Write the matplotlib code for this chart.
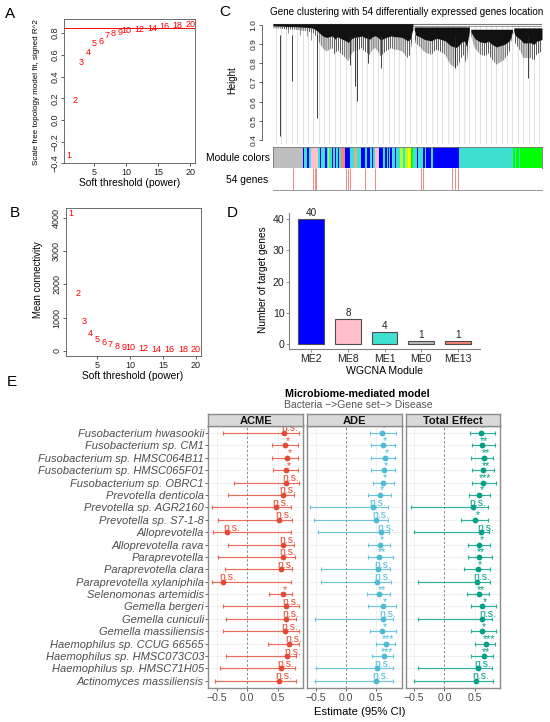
import matplotlib
matplotlib.use('Agg')
import matplotlib.pyplot as plt
import numpy as np

plt.rcParams['font.family'] = ['Liberation Sans', 'DejaVu Sans']
plt.rcParams['hatch.linewidth'] = 0.55

W, H = 550, 722
fig = plt.figure(figsize=(W / 100, H / 100), dpi=100)


def add_ax(l, t, r, b):
    return fig.add_axes([l / W, 1 - b / H, (r - l) / W, (b - t) / H])


def ftext(x, y, s, **kw):
    kw.setdefault('ha', 'center')
    kw.setdefault('va', 'center')
    return fig.text(x / W, 1 - y / H, s, **kw)


# ---------------- data ----------------
powers = [1, 2, 3, 4, 5, 6, 7, 8, 9, 10, 12, 14, 16, 18, 20]
sft_r2 = [-0.33, 0.18, 0.53, 0.62, 0.70, 0.72, 0.78, 0.80, 0.81, 0.82,
          0.835, 0.845, 0.857, 0.87, 0.88]
mean_k = [4150, 1730, 890, 520, 350, 250, 175, 130, 100, 85, 60, 45, 35, 28, 22]
r2_cut = 0.85

# dendrogram (leaf order in percent, heights)
clu1_pos = [0, 3, 6, 8, 11, 13, 15, 16, 17, 18, 19, 20, 22, 23, 24, 25, 27, 28, 29, 30,
            32, 33, 34, 36, 37, 38, 39, 40, 42, 43, 44, 45, 46, 48, 49, 50, 51, 52]
clu1_bot = [0.984, 0.981, 0.976, 0.976, 0.970, 0.967, 0.958, 0.94, 0.915, 0.889, 0.871,
            0.863, 0.880, 0.845, 0.871, 0.854, 0.828, 0.810, 0.845, 0.863, 0.871, 0.880,
            0.863, 0.845, 0.871, 0.880, 0.863, 0.837, 0.863, 0.871, 0.880, 0.871, 0.871,
            0.863, 0.845, 0.828, 0.845, 0.95]
clu2_pos = [52.5, 53, 55, 56, 57, 59, 60, 61, 62, 64, 65, 66, 68, 69, 70, 71, 72, 73]
clu2_bot = [0.96, 0.906, 0.880, 0.863, 0.854, 0.845, 0.863, 0.871, 0.863, 0.845, 0.819,
            0.793, 0.776, 0.793, 0.828, 0.845, 0.784, 0.95]
clu3_pos = [73.5, 75, 76, 77, 79, 80, 81, 82, 83, 85, 86, 87, 88, 89]
clu3_bot = [0.95, 0.880, 0.863, 0.845, 0.837, 0.854, 0.828, 0.810, 0.793, 0.810, 0.819,
            0.837, 0.863, 0.95]
clu4_pos = [89.5, 90, 92, 93, 95, 96, 97, 98, 100]
clu4_bot = [0.95, 0.906, 0.863, 0.828, 0.828, 0.828, 0.810, 0.845, 0.863]
clu_tops = [1.007, 0.990, 0.978, 0.985]
long_leaf_pos = [2.7, 7.2, 16.4, 28.5, 30.6, 31.4, 35.3, 40.3, 67.5, 94.8]
long_leaf_bot = [0.419, 0.706, 0.515, 0.793, 0.680, 0.605, 0.802, 0.776, 0.776, 0.724]
short_leaf_pos = [5.6, 9.9, 12.8, 14.3]
short_leaf_bot = [0.958, 0.950, 0.941, 0.923]

mod_start = [0, 11.2, 11.6, 12.8, 13.2, 14.0, 16.7, 17.6, 18.0, 18.8, 19.1, 19.5, 19.9,
             20.6, 21.0, 21.8, 22.2, 23.0, 23.5, 24.3, 24.7, 25.4, 26.6, 28.5, 30.1, 31.2,
             32.8, 34.1, 35.1, 35.9, 36.7, 37.0, 37.8, 39.3, 40.9, 41.8, 42.2, 42.6, 43.0,
             43.4, 44.2, 45.2, 45.8, 47.1, 48.3, 48.9, 50.2, 51.2, 52.0, 53.5, 53.8, 55.8,
             56.4, 57.0, 58.8, 59.5, 69.0, 89.2, 90.0, 90.5, 91.3, 91.7]
mod_col = ['grey', 'blue', 'turquoise', 'blue', 'turquoise', 'pink', 'turquoise', 'blue',
           'turquoise', 'blue', 'turquoise', 'blue', 'turquoise', 'greenyellow', 'turquoise',
           'blue', 'turquoise', 'blue', 'turquoise', 'blue', 'turquoise', 'salmon', 'blue',
           'turquoise', 'tan', 'turquoise', 'blue', 'turquoise', 'blue', 'turquoise', 'blue',
           'turquoise', 'pink', 'blue', 'turquoise', 'blue', 'turquoise', 'blue', 'turquoise',
           'blue', 'turquoise', 'blue', 'turquoise', 'greenyellow', 'turquoise',
           'greenyellow', 'yellow', 'green', 'turquoise', 'blue', 'turquoise', 'blue',
           'turquoise', 'blue', 'turquoise', 'blue', 'turquoise', 'green', 'turquoise',
           'green', 'turquoise', 'green']
wgcna_rgb = {'grey': '#BEBEBE', 'blue': '#0000FF', 'turquoise': '#40E0D0', 'pink': '#FFC0CB',
             'salmon': '#FA8072', 'tan': '#D2B48C', 'greenyellow': '#ADFF2F',
             'yellow': '#FFFF00', 'green': '#00FF00'}
de_gene_pos = [7.4, 14.9, 15.5, 16.1, 27.3, 27.9, 28.5, 34.1, 37.8, 55.1, 55.8, 66.7, 67.5, 68.8]

modules = ['ME2', 'ME8', 'ME1', 'ME0', 'ME13']
gene_counts = [40, 8, 4, 1, 1]
module_fill = ['#0000FF', '#FFC0CB', '#40E0D0', '#BEBEBE', '#FA8072']

taxa = ['Fusobacterium hwasookii', 'Fusobacterium sp. CM1', 'Fusobacterium sp. HMSC064B11',
        'Fusobacterium sp. HMSC065F01', 'Fusobacterium sp. OBRC1', 'Prevotella denticola',
        'Prevotella sp. AGR2160', 'Prevotella sp. S7-1-8', 'Alloprevotella',
        'Alloprevotella rava', 'Paraprevotella', 'Paraprevotella clara',
        'Paraprevotella xylaniphila', 'Selenomonas artemidis', 'Gemella bergeri',
        'Gemella cuniculi', 'Gemella massiliensis', 'Haemophilus sp. CCUG 66565',
        'Haemophilus sp. HMSC073C03', 'Haemophilus sp. HMSC71H05', 'Actinomyces massiliensis']

acme_est = [0.61, 0.62, 0.66, 0.64, 0.64, 0.58, 0.47, 0.52, -0.33, 0.58, 0.58, 0.56, -0.39,
            0.58, 0.64, 0.64, 0.62, 0.69, 0.66, 0.56, 0.52]
acme_lo = [-0.39, 0.40, 0.40, 0.43, -0.21, -0.31, -0.57, -0.48, -0.55, -0.31, -0.47, -0.36,
           -0.57, 0.36, -0.39, -0.35, -0.40, 0.34, -0.35, -0.44, -0.52]
acme_hi = [0.85, 0.83, 0.83, 0.83, 0.85, 0.76, 0.72, 0.73, 0.72, 0.76, 0.78, 0.74, 0.72,
           0.74, 0.85, 0.80, 0.85, 0.85, 0.80, 0.79, 0.80]
acme_sig = ['n.s.', '*', '*', '*', 'n.s.', 'n.s.', 'n.s.', 'n.s.', 'n.s.', 'n.s.', 'n.s.',
            'n.s.', 'n.s.', '*', 'n.s.', 'n.s.', 'n.s.', 'n.s.', 'n.s.', 'n.s.', 'n.s.']

ade_est = [0.59, 0.61, 0.64, 0.62, 0.61, 0.56, 0.45, 0.49, 0.58, 0.56, 0.55, 0.53, 0.52,
           0.55, 0.61, 0.61, 0.60, 0.66, 0.63, 0.52, 0.50]
ade_lo = [0.40, 0.42, 0.41, 0.41, 0.45, 0.37, -0.59, -0.53, -0.47, 0.36, 0.37, -0.41, -0.42,
          0.35, 0.36, -0.51, 0.40, 0.50, 0.43, -0.50, -0.52]
ade_hi = [0.82, 0.81, 0.81, 0.81, 0.79, 0.74, 0.70, 0.70, 0.71, 0.72, 0.77, 0.73, 0.74,
          0.73, 0.83, 0.77, 0.83, 0.81, 0.78, 0.77, 0.78]
ade_sig = ['*', '*', '*', '*', '*', '*', 'n.s.', 'n.s.', 'n.s.', '*', '**', 'n.s.', 'n.s.',
           '**', '*', 'n.s.', '*', '***', '***', 'n.s.', 'n.s.']

tot_est = [0.60, 0.62, 0.65, 0.64, 0.64, 0.58, 0.47, 0.51, 0.60, 0.58, 0.57, 0.55, 0.54,
           0.57, 0.63, 0.63, 0.62, 0.69, 0.65, 0.55, 0.52]
tot_lo = [0.43, 0.46, 0.44, 0.46, 0.45, 0.40, -0.56, 0.28, -0.50, 0.39, 0.39, 0.32, -0.44,
          0.38, 0.44, -0.43, 0.44, 0.50, 0.44, -0.44, -0.51]
tot_hi = [0.84, 0.83, 0.81, 0.82, 0.86, 0.76, 0.72, 0.72, 0.73, 0.76, 0.79, 0.75, 0.76,
          0.73, 0.86, 0.79, 0.85, 0.84, 0.81, 0.79, 0.80]
tot_sig = ['*', '**', '**', '**', '***', '*', 'n.s.', '*', 'n.s.', '*', '**', '*', 'n.s.',
           '**', '*', 'n.s.', '*', '***', '**', 'n.s.', 'n.s.']


# ---------------- helpers ----------------
def base_style(ax):
    for s in ax.spines.values():
        s.set_color('#555555')
        s.set_linewidth(0.6)
    ax.tick_params(direction='out', length=2.5, width=0.6, colors='#444444',
                   labelcolor='#222222', labelsize=6.5, pad=1)


def fmt(v):
    s = f'{v:.1f}'
    return s.replace('-', '\u2212')


# ---------------- Panel A ----------------
axA = add_ax(64, 19, 195, 163.4)
axA.axhline(r2_cut, color='#FF0000', lw=0.7)
for p, v in zip(powers, sft_r2):
    axA.text(p, v, str(p), color='#FF0000', fontsize=6.5, ha='center', va='center')
axA.set_xlim(0.24, 20.76)
axA.set_ylim(-0.40, 0.93)
axA.set_xticks([5, 10, 15, 20])
ytA = [-0.4, -0.2, 0.0, 0.2, 0.4, 0.6, 0.8]
axA.set_yticks(ytA)
axA.set_yticklabels([fmt(v) for v in ytA], rotation=90, va='center')
base_style(axA)
ftext(130, 183, 'Soft threshold (power)', fontsize=7.4)
ftext(37, 92, 'Scale free topology model fit, signed R^2', fontsize=5.8, rotation=90)

# ---------------- Panel B ----------------
axB = add_ax(66, 207.8, 201, 356)
for p, v in zip(powers, mean_k):
    axB.text(p, v, str(p), color='#FF0000', fontsize=6.5, ha='center', va='center')
axB.set_xlim(0.24, 20.76)
axB.set_ylim(-160, 4316)
axB.set_xticks([5, 10, 15, 20])
ytB = [0, 1000, 2000, 3000, 4000]
axB.set_yticks(ytB)
axB.set_yticklabels([str(v) for v in ytB], rotation=90, va='center')
base_style(axB)
ftext(133, 376, 'Soft threshold (power)', fontsize=7.4)
ftext(38, 280, 'Mean connectivity', fontsize=6.9, rotation=90)

# ---------------- Panel C ----------------
axC = add_ax(273, 22, 542, 144)
axC.set_xlim(0, 100)
axC.set_ylim(0.379, 1.0157)
guide_x = (np.arange(50) + 0.5) * 2
axC.vlines(guide_x, 0.379, 1.0, color='#D4D4D4', lw=0.5, zorder=1)
for pos, bot, top in zip([clu1_pos, clu2_pos, clu3_pos, clu4_pos],
                         [clu1_bot, clu2_bot, clu3_bot, clu4_bot], clu_tops):
    bot = np.array(bot)
    mid = top - 0.5 * (top - bot)
    axC.fill_between(pos, mid, top, color='#111111', lw=0, zorder=3)
    axC.fill_between(pos, bot, mid, facecolor='none', edgecolor='#2a2a2a',
                     hatch='||||||||', lw=0, zorder=3)
axC.plot([52, 100], [0.996, 0.996], color='#888888', lw=0.6, zorder=2)
axC.plot([0, 100], [1.006, 1.006], color='#777777', lw=0.8, zorder=2)
axC.vlines(long_leaf_pos, long_leaf_bot, 0.95, color='#222222', lw=0.6, zorder=3)
axC.vlines(short_leaf_pos, short_leaf_bot, 0.99, color='#666666', lw=0.5, zorder=3)
for k in ['top', 'right', 'bottom']:
    axC.spines[k].set_visible(False)
axC.spines['left'].set_position(('outward', 7.9))
axC.spines['left'].set_bounds(0.4, 1.0)
axC.set_xticks([])
ytC = [0.4, 0.5, 0.6, 0.7, 0.8, 0.9, 1.0]
axC.set_yticks(ytC)
axC.set_yticklabels([f'{v:.1f}' for v in ytC], rotation=90, va='center')
base_style(axC)
axC.tick_params(labelsize=6)
ftext(232, 80, 'Height', fontsize=6.9, rotation=90)
ftext(407, 12, 'Gene clustering with 54 differentially expressed genes location',
      fontsize=7.1)

axM = add_ax(273, 147, 542, 168)
mod_end = mod_start[1:] + [100]
axM.bar(mod_start, [1] * len(mod_start), width=np.array(mod_end) - np.array(mod_start),
        align='edge', color=[wgcna_rgb[c] for c in mod_col], lw=0)
axM.set_xlim(0, 100)
axM.set_ylim(0, 1)
axM.set_xticks([])
axM.set_yticks([])
for s in axM.spines.values():
    s.set_color('#777777')
    s.set_linewidth(0.6)
ftext(270, 158, 'Module colors', fontsize=7.4, ha='right')

axG = add_ax(273, 168, 542, 190)
axG.vlines(de_gene_pos, 0, 1, color='#EE8888', lw=0.7)
axG.set_xlim(0, 100)
axG.set_ylim(0, 1)
axG.set_xticks([])
axG.set_yticks([])
for k in ['top', 'right', 'left']:
    axG.spines[k].set_visible(False)
axG.spines['bottom'].set_color('#888888')
axG.spines['bottom'].set_linewidth(0.6)
ftext(268, 180, '54 genes', fontsize=7.4, ha='right')

# ---------------- Panel D ----------------
axD = add_ax(289.3, 213, 480, 349.3)
xD = np.arange(1, len(modules) + 1)
axD.bar(xD, gene_counts, width=0.7, color=module_fill, edgecolor='#4D4D4D', linewidth=0.8)
for xi, c in zip(xD, gene_counts):
    axD.text(xi, c + 0.3, str(c), ha='center', va='bottom', fontsize=7.2, color='#222222')
axD.set_xlim(0.4, 5.6)
axD.set_ylim(-1.7, 42)
axD.set_xticks(xD)
axD.set_xticklabels(modules)
axD.set_yticks([0, 10, 20, 30, 40])
for k in ['top', 'right']:
    axD.spines[k].set_visible(False)
for k in ['left', 'bottom']:
    axD.spines[k].set_color('#808080')
    axD.spines[k].set_linewidth(0.8)
axD.tick_params(direction='out', length=2, width=0.6, colors='#808080',
                labelcolor='#222222', labelsize=7.6, pad=1.5)
ftext(263.5, 280, 'Number of target genes', fontsize=7.3, rotation=90)
ftext(385, 371, 'WGCNA Module', fontsize=7.6)

# ---------------- Panel E ----------------
rows = np.arange(1, len(taxa) + 1)
panels = [('ACME', acme_est, acme_lo, acme_hi, acme_sig, '#E64B35', 208, 303.3),
          ('ADE', ade_est, ade_lo, ade_hi, ade_sig, '#4DBBD5', 307.3, 401.7),
          ('Total Effect', tot_est, tot_lo, tot_hi, tot_sig, '#00A087', 405.7, 500)]
border = '#8C8C8C'
for i, (name, est, lo, hi, sig, col, l, r) in enumerate(panels):
    ax = add_ax(l, 425.5, r, 688.3)
    ax.set_xlim(-0.64, 0.92)
    ax.set_ylim(21.6, 0.4)
    for yy in rows:
        ax.axhline(yy, color='#EBEBEB', lw=0.5, zorder=0)
    for xx in [-0.5, 0.5]:
        ax.axvline(xx, color='#EBEBEB', lw=0.5, zorder=0)
    ax.axvline(0, color='#8C8C8C', lw=0.7, ls=(0, (2.5, 2)), zorder=1)
    est_a = np.array(est)
    ax.errorbar(est_a, rows, xerr=[est_a - np.array(lo), np.array(hi) - est_a], fmt='none',
                ecolor=col, elinewidth=0.85, capsize=1.6, capthick=0.85, alpha=0.8, zorder=2)
    ax.plot(est_a, rows, 'o', color=col, ms=4.2, mew=0, zorder=3)
    for e, y, s in zip(est, rows, sig):
        ax.text(e + (0.08 if s == 'n.s.' else 0.04), y - 0.12, s, color=col, fontsize=7.6,
                ha='center', va='baseline', clip_on=True, zorder=4)
    for s in ax.spines.values():
        s.set_color(border)
        s.set_linewidth(1.0)
    ax.set_xticks([-0.5, 0.0, 0.5])
    ax.set_xticklabels(['\u22120.5', '0.0', '0.5'])
    ax.set_yticks(rows)
    ax.tick_params(axis='x', direction='out', length=2, width=0.6, colors='#4D4D4D',
                   labelsize=7.6, pad=1.2)
    if i == 0:
        ax.set_yticklabels(taxa, fontstyle='italic')
        ax.tick_params(axis='y', direction='out', length=2, width=0.6, colors='#4D4D4D',
                       labelsize=8, pad=0.8)
    else:
        ax.tick_params(axis='y', length=0, labelleft=False)
    sax = add_ax(l, 414.5, r, 425.5)
    sax.set_facecolor('#D9D9D9')
    sax.set_xticks([])
    sax.set_yticks([])
    for s in sax.spines.values():
        s.set_color(border)
        s.set_linewidth(1.0)
    sax.text(0.5, 0.45, name, transform=sax.transAxes, ha='center', va='center',
             fontsize=8, fontweight='bold', color='#111111')

ftext(357.5, 394.3, 'Microbiome-mediated model', fontsize=7.7, fontweight='bold')
ftext(358, 405, 'Bacteria \u2212>Gene set\u2212> Disease', fontsize=7.5, color='#555555')
ftext(360, 711.7, 'Estimate (95% CI)', fontsize=8.1)

# panel letters
for letter, x, y in [('A', 10, 14), ('B', 15, 213), ('C', 225, 12), ('D', 232, 213),
                     ('E', 12, 382)]:
    ftext(x, y, letter, fontsize=11)

fig.savefig('out.png', dpi=100)
